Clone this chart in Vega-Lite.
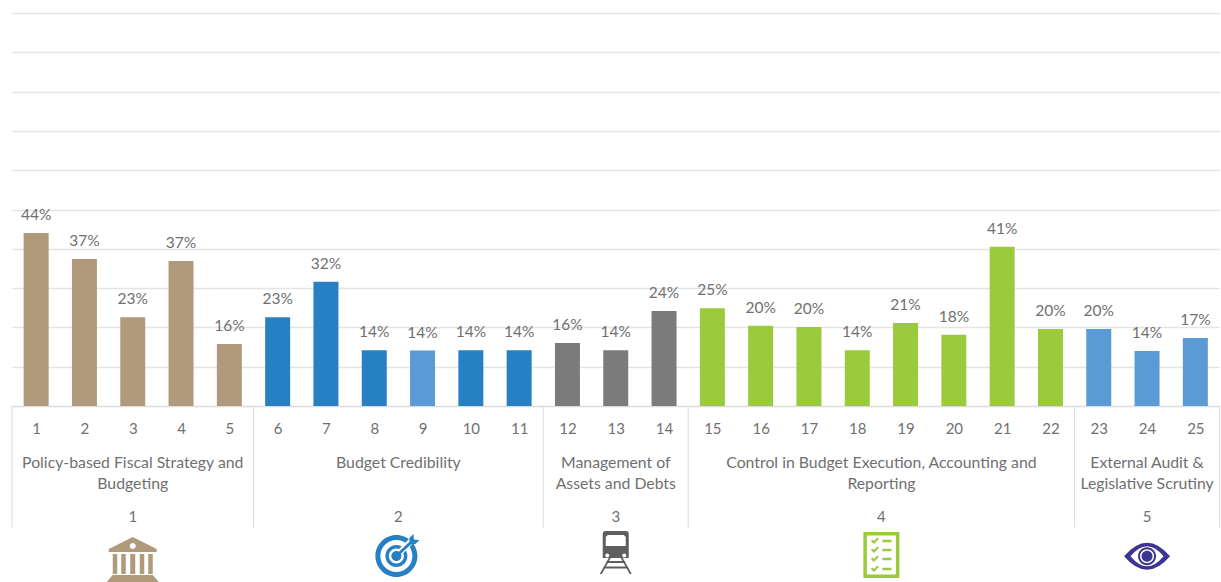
{
"$schema":"https://vega.github.io/schema/vega-lite/v6.json",
"autosize":{"type":"none"},
"padding":{"left":12,"top":13,"right":1.5,"bottom":176},
"width":1207.5,"height":393,
"background":"white",
"config":{"view":{"stroke":null},"text":{"font":"Lato"}},
"datasets":{
"bars":[
{"n":1,"v":0.44,"tone":"P1"},{"n":2,"v":0.374,"tone":"P1"},{"n":3,"v":0.226,"tone":"P1"},{"n":4,"v":0.369,"tone":"P1"},{"n":5,"v":0.158,"tone":"P1"},
{"n":6,"v":0.226,"tone":"P2"},{"n":7,"v":0.316,"tone":"P2"},{"n":8,"v":0.142,"tone":"P2"},{"n":9,"v":0.141,"tone":"P5"},{"n":10,"v":0.142,"tone":"P2"},{"n":11,"v":0.142,"tone":"P2"},
{"n":12,"v":0.16,"tone":"P3"},{"n":13,"v":0.142,"tone":"P3"},{"n":14,"v":0.242,"tone":"P3"},
{"n":15,"v":0.249,"tone":"P4"},{"n":16,"v":0.204,"tone":"P4"},{"n":17,"v":0.201,"tone":"P4"},{"n":18,"v":0.142,"tone":"P4"},{"n":19,"v":0.211,"tone":"P4"},{"n":20,"v":0.181,"tone":"P4"},{"n":21,"v":0.405,"tone":"P4"},{"n":22,"v":0.196,"tone":"P4"},
{"n":23,"v":0.196,"tone":"P5"},{"n":24,"v":0.14,"tone":"P5"},{"n":25,"v":0.173,"tone":"P5"}],
"groups":[
{"id":1,"center":3,"name":"Policy-based Fiscal Strategy and\nBudgeting"},
{"id":2,"center":8.5,"name":"Budget Credibility"},
{"id":3,"center":13,"name":"Management of\nAssets and Debts"},
{"id":4,"center":18.5,"name":"Control in Budget Execution, Accounting and\nReporting"},
{"id":5,"center":24,"name":"External Audit &\nLegislative Scrutiny"}],
"seps":[{"b":0.5},{"b":5.5},{"b":11.5},{"b":14.5},{"b":22.5},{"b":25.5}]
},
"layer":[
{"data":{"name":"bars"},
 "mark":{"type":"bar","size":25},
 "encoding":{
  "x":{"field":"n","type":"quantitative","scale":{"domain":[0.5,25.5],"nice":false,"zero":false,"padding":0},
   "axis":{"title":null,"values":[1,2,3,4,5,6,7,8,9,10,11,12,13,14,15,16,17,18,19,20,21,22,23,24,25],"format":"d","ticks":false,"grid":false,"domainColor":"#dcdcdc","domainWidth":1.5,"labelFont":"Lato","labelFontSize":15,"labelColor":"#707070","labelPadding":15,"labelOverlap":false,"labelFlush":false}},
  "y":{"field":"v","type":"quantitative","scale":{"domain":[0,1],"nice":false},
   "axis":{"title":null,"values":[0.1,0.2,0.3,0.4,0.5,0.6,0.7,0.8,0.9,1],"labels":false,"ticks":false,"domain":false,"grid":true,"gridColor":"#e4e4e4","gridWidth":1.5}},
  "color":{"field":"tone","type":"nominal","legend":null,"scale":{"domain":["P1","P2","P3","P4","P5"],"range":["#b09a7b","#2780c4","#7b7b7c","#9bca3c","#5b9bd5"]}}
 }},
{"data":{"name":"bars"},
 "mark":{"type":"text","baseline":"middle","dy":-18,"fontSize":15.5,"fill":"#707070","font":"Lato"},
 "encoding":{"x":{"field":"n","type":"quantitative"},"y":{"field":"v","type":"quantitative"},"text":{"field":"v","format":".0%"}}},
{"data":{"name":"seps"},
 "mark":{"type":"rule","stroke":"#dcdcdc","strokeWidth":1},
 "encoding":{"x":{"field":"b","type":"quantitative"},"y":{"datum":0,"type":"quantitative"},"y2":{"datum":-0.31}}},
{"data":{"name":"groups"},
 "mark":{"type":"text","baseline":"middle","lineBreak":"\n","lineHeight":21,"fontSize":15.8,"fill":"#707070","font":"Lato"},
 "encoding":{"x":{"field":"center","type":"quantitative"},"y":{"datum":-0.144,"type":"quantitative"},"text":{"field":"name"}}},
{"data":{"name":"groups"},
 "mark":{"type":"text","baseline":"middle","fontSize":15,"fill":"#707070","font":"Lato"},
 "encoding":{"x":{"field":"center","type":"quantitative"},"y":{"datum":-0.2824,"type":"quantitative"},"text":{"field":"id"}}},
{"data":{"name":"groups"},"transform":[{"filter":"datum.id==1"}],
 "mark":{"type":"point","filled":true,"opacity":1,"size":40000,"fill":"#b09a7b","stroke":null,
  "shape":"M0,-.18 L.24,-.06 L.24,-.03 L-.24,-.03 L-.24,-.06 Z M0,-.12 A.03,.03 0 1 0 0,-.06 A.03,.03 0 1 0 0,-.12 Z M-.2,-.01 L-.155,-.01 L-.155,.19 L-.2,.19 Z M-.115,-.01 L-.07,-.01 L-.07,.19 L-.115,.19 Z M-.025,-.01 L.025,-.01 L.025,.19 L-.025,.19 Z M.07,-.01 L.115,-.01 L.115,.19 L.07,.19 Z M.155,-.01 L.2,-.01 L.2,.19 L.155,.19 Z M-.2,.2 L.2,.2 L.26,.27 L-.26,.27 Z"},
 "encoding":{"x":{"field":"center","type":"quantitative"},"y":{"datum":-0.379,"type":"quantitative"}}},
{"data":{"name":"groups"},"transform":[{"filter":"datum.id==2"}],
 "mark":{"type":"point","filled":true,"opacity":1,"size":40000,"fill":"#2780c4","stroke":null,
  "shape":"M-.02,-.2 A.21,.21 0 1 1 -.02,.22 A.21,.21 0 1 1 -.02,-.2 Z M-.02,-.15 A.16,.16 0 1 0 -.02,.17 A.16,.16 0 1 0 -.02,-.15 Z M-.02,-.1 A.11,.11 0 1 1 -.02,.12 A.11,.11 0 1 1 -.02,-.1 Z M-.02,-.065 A.075,.075 0 1 0 -.02,.085 A.075,.075 0 1 0 -.02,-.065 Z M-.02,-.04 A.05,.05 0 1 1 -.02,.06 A.05,.05 0 1 1 -.02,-.04 Z"},
 "encoding":{"x":{"field":"center","type":"quantitative"},"y":{"datum":-0.379,"type":"quantitative"}}},
{"data":{"name":"groups"},"transform":[{"filter":"datum.id==2"}],
 "mark":{"type":"point","filled":false,"opacity":1,"size":40000,"stroke":"#ffffff","strokeWidth":6,"shape":"M.03,-.04 L.17,-.18"},
 "encoding":{"x":{"field":"center","type":"quantitative"},"y":{"datum":-0.379,"type":"quantitative"}}},
{"data":{"name":"groups"},"transform":[{"filter":"datum.id==2"}],
 "mark":{"type":"point","filled":true,"opacity":1,"size":40000,"fill":"#2780c4","stroke":null,
  "shape":"M-.03,0 L.12,-.14 L.14,-.12 L-.01,.02 Z M.11,-.1 L.11,-.17 L.15,-.21 L.155,-.155 L.21,-.15 L.17,-.11 Z"},
 "encoding":{"x":{"field":"center","type":"quantitative"},"y":{"datum":-0.379,"type":"quantitative"}}},
{"data":{"name":"groups"},"transform":[{"filter":"datum.id==3"}],
 "mark":{"type":"point","filled":true,"opacity":1,"size":40000,"fill":"#5e5e5e","stroke":null,
  "shape":"M-.1,-.2 L.1,-.2 Q.13,-.2 .13,-.17 L.13,.07 L-.13,.07 L-.13,-.17 Q-.13,-.2 -.1,-.2 Z M-.08,-.16 L-.1,-.14 L-.1,-.05 L.1,-.05 L.1,-.14 L.08,-.16 Z M-.085,.025 A.02,.02 0 1 0 -.085,.065 A.02,.02 0 1 0 -.085,.025 Z M.085,.025 A.02,.02 0 1 0 .085,.065 A.02,.02 0 1 0 .085,.025 Z M-.07,.07 L-.05,.07 L-.14,.23 L-.16,.23 Z M.05,.07 L.07,.07 L.16,.23 L.14,.23 Z M-.09,.1 L.09,.1 L.1,.12 L-.1,.12 Z M-.12,.155 L.12,.155 L.13,.175 L-.13,.175 Z"},
 "encoding":{"x":{"field":"center","type":"quantitative"},"y":{"datum":-0.369,"type":"quantitative"}}},
{"data":{"name":"groups"},"transform":[{"filter":"datum.id==4"}],
 "mark":{"type":"point","filled":true,"opacity":1,"size":40000,"fill":"#9bca3c","stroke":null,
  "shape":"M-.18,-.23 L.18,-.23 L.18,.23 L-.18,.23 Z M-.145,-.195 L-.145,.195 L.145,.195 L.145,-.195 Z M-.105,-.14 L-.09,-.155 L-.075,-.14 L-.04,-.175 L-.025,-.16 L-.075,-.11 Z M-.105,-.05 L-.09,-.065 L-.075,-.05 L-.04,-.085 L-.025,-.07 L-.075,-.02 Z M-.105,.04 L-.09,.025 L-.075,.04 L-.04,.005 L-.025,.02 L-.075,.07 Z M-.105,.14 L-.09,.125 L-.075,.14 L-.04,.105 L-.025,.12 L-.075,.17 Z M.01,-.152 L.1,-.152 L.1,-.128 L.01,-.128 Z M.01,-.062 L.1,-.062 L.1,-.038 L.01,-.038 Z M.01,.028 L.1,.028 L.1,.052 L.01,.052 Z M.01,.128 L.1,.128 L.1,.152 L.01,.152 Z"},
 "encoding":{"x":{"field":"center","type":"quantitative"},"y":{"datum":-0.379,"type":"quantitative"}}},
{"data":{"name":"groups"},"transform":[{"filter":"datum.id==5"}],
 "mark":{"type":"point","filled":true,"opacity":1,"size":40000,"fill":"#3d3592","stroke":null,
  "shape":"M-.23,0 Q0,-.27 .23,0 Q0,.27 -.23,0 Z M-.165,0 Q0,.2 .165,0 Q0,-.2 -.165,0 Z M0,-.09 A.09,.09 0 1 1 0,.09 A.09,.09 0 1 1 0,-.09 Z M0,-.07 A.07,.07 0 1 0 0,.07 A.07,.07 0 1 0 0,-.07 Z M0,-.055 A.055,.055 0 1 1 0,.055 A.055,.055 0 1 1 0,-.055 Z"},
 "encoding":{"x":{"field":"center","type":"quantitative"},"y":{"datum":-0.382,"type":"quantitative"}}}
]
}
